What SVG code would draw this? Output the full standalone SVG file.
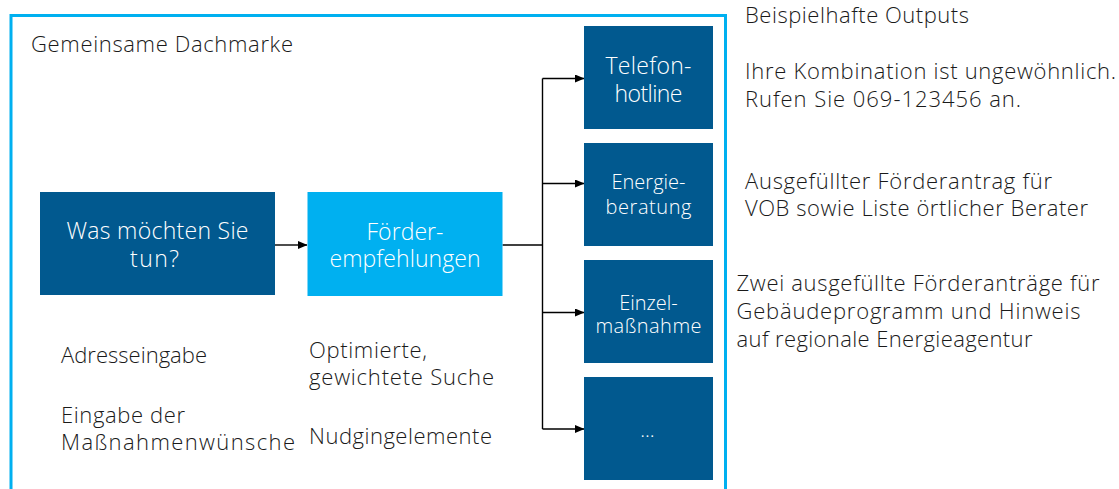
<svg xmlns="http://www.w3.org/2000/svg" width="1119" height="489" viewBox="0 0 1119 489">
  <style>
    text { font-family: "Open Sans", "Liberation Sans", sans-serif; font-weight: 300; }
    .body { font-size: 22px; fill: #1a1a1a; }
    .title { font-size: 22px; fill: #1a1a1a; }
    .dark { fill: #01598F; }
    .light { fill: #00B0F0; }
    .boxtxt { fill: #ffffff; text-anchor: middle; }
    .conn { stroke: #000000; stroke-width: 1.4; fill: none; }
  </style>
  <defs>
    <marker id="arrow" markerWidth="10" markerHeight="8" refX="9" refY="4" orient="auto" markerUnits="userSpaceOnUse">
      <path d="M0,0 L9.5,4 L0,8 z" fill="#000000"/>
    </marker>
  </defs>
  <rect width="1119" height="489" fill="#ffffff"/>

  <g id="frame">
    <rect x="11" y="15.5" width="714.5" height="490" fill="none" stroke="#00B0F0" stroke-width="3"/>
    <text class="title" x="31" y="52" textLength="262" lengthAdjust="spacing">Gemeinsame Dachmarke</text>
  </g>

  <g id="connectors">
    <line class="conn" x1="275" y1="245" x2="307" y2="245" marker-end="url(#arrow)"/>
    <line class="conn" x1="502.5" y1="245" x2="542.5" y2="245"/>
    <line class="conn" x1="542.5" y1="78.5" x2="542.5" y2="429"/>
    <line class="conn" x1="542.5" y1="78.5" x2="584" y2="78.5" marker-end="url(#arrow)"/>
    <line class="conn" x1="542.5" y1="183.5" x2="584" y2="183.5" marker-end="url(#arrow)"/>
    <line class="conn" x1="542.5" y1="312.5" x2="584" y2="312.5" marker-end="url(#arrow)"/>
    <line class="conn" x1="542.5" y1="429" x2="584" y2="429" marker-end="url(#arrow)"/>
  </g>

  <g id="node-was">
    <rect class="dark" x="40" y="192" width="235" height="103"/>
    <text class="boxtxt" x="157.5" y="238.5" font-size="23" textLength="182" lengthAdjust="spacing">Was möchten Sie</text>
    <text class="boxtxt" x="154.5" y="266.5" font-size="23" textLength="49" lengthAdjust="spacing">tun?</text>
  </g>

  <g id="node-foerder">
    <rect class="light" x="307.5" y="192" width="195" height="104"/>
    <text class="boxtxt" x="405" y="240" font-size="23" textLength="77" lengthAdjust="spacing">Förder-</text>
    <text class="boxtxt" x="405" y="267" font-size="23" textLength="151" lengthAdjust="spacing">empfehlungen</text>
  </g>

  <g id="node-telefon">
    <rect class="dark" x="584" y="26" width="129" height="103"/>
    <text class="boxtxt" x="648.5" y="73.5" font-size="23" textLength="86" lengthAdjust="spacing">Telefon-</text>
    <text class="boxtxt" x="648.5" y="101.5" font-size="23" textLength="68" lengthAdjust="spacing">hotline</text>
  </g>

  <g id="node-energie">
    <rect class="dark" x="584" y="143" width="129" height="103"/>
    <text class="boxtxt" x="648.5" y="188.5" font-size="20">Energie-</text>
    <text class="boxtxt" x="648.5" y="213.5" font-size="20" textLength="86" lengthAdjust="spacing">beratung</text>
  </g>

  <g id="node-einzel">
    <rect class="dark" x="584" y="260" width="129" height="103"/>
    <text class="boxtxt" x="648.5" y="310" font-size="20">Einzel-</text>
    <text class="boxtxt" x="648.5" y="333" font-size="20" textLength="106" lengthAdjust="spacing">maßnahme</text>
  </g>

  <g id="node-more">
    <rect class="dark" x="584" y="377" width="129" height="103"/>
    <text class="boxtxt" x="648.5" y="437" font-size="20" letter-spacing="2">…</text>
  </g>

  <g id="inputs">
    <text class="body" x="61" y="363" textLength="146" lengthAdjust="spacing">Adresseingabe</text>
    <text class="body" x="61" y="423" textLength="124" lengthAdjust="spacing">Eingabe der</text>
    <text class="body" x="61" y="450" textLength="234" lengthAdjust="spacing">Maßnahmenwünsche</text>
  </g>

  <g id="features">
    <text class="body" x="309" y="358" textLength="118" lengthAdjust="spacing">Optimierte,</text>
    <text class="body" x="309" y="385" textLength="185" lengthAdjust="spacing">gewichtete Suche</text>
    <text class="body" x="309" y="443.5" textLength="183" lengthAdjust="spacing">Nudgingelemente</text>
  </g>

  <g id="outputs">
    <text class="body" x="745" y="23" textLength="224" lengthAdjust="spacing">Beispielhafte Outputs</text>
    <text class="body" x="745" y="79" textLength="371" lengthAdjust="spacing">Ihre Kombination ist ungewöhnlich.</text>
    <text class="body" x="745" y="106.5" textLength="276" lengthAdjust="spacing">Rufen Sie 069-123456 an.</text>
    <text class="body" x="745" y="188.5" textLength="307" lengthAdjust="spacing">Ausgefüllter Förderantrag für</text>
    <text class="body" x="745" y="216" textLength="343" lengthAdjust="spacing">VOB sowie Liste örtlicher Berater</text>
    <text class="body" x="736.5" y="290.5" textLength="363" lengthAdjust="spacing">Zwei ausgefüllte Förderanträge für</text>
    <text class="body" x="736.5" y="318.5" textLength="344" lengthAdjust="spacing">Gebäudeprogramm und Hinweis</text>
    <text class="body" x="736.5" y="346.5" textLength="296" lengthAdjust="spacing">auf regionale Energieagentur</text>
  </g>
</svg>
